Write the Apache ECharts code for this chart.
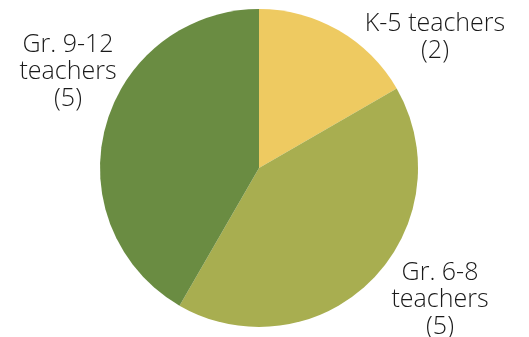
<!DOCTYPE html>
<html>
<head>
<meta charset="utf-8">
<script src="https://cdn.jsdelivr.net/npm/echarts@6/dist/echarts.min.js"></script>
<style>
  html, body { margin: 0; padding: 0; background: #ffffff; }
  #chart { width: 529px; height: 337px; }
</style>
</head>
<body>
<div id="chart"></div>
<script>
// Teacher counts by grade band
const categories = ['K-5 teachers', 'Gr. 6-8 teachers', 'Gr. 9-12 teachers'];
const labelLines = [['K-5 teachers'], ['Gr. 6-8', 'teachers'], ['Gr. 9-12', 'teachers']];
const counts = [2, 5, 5];
const colors = ['#EECA61', '#A8AE50', '#6A8C42'];

// Label anchor points (centre of the text block) in pixels
const labelAnchors = [[435, 37], [440, 300], [68, 72]];

const chart = echarts.init(document.getElementById('chart'), null, { renderer: 'canvas' });

chart.setOption({
  backgroundColor: '#ffffff',
  animation: false,
  series: [{
    type: 'pie',
    center: [259, 168],
    radius: [0, 159],
    startAngle: 90,
    clockwise: true,
    avoidLabelOverlap: false,
    data: categories.map((name, i) => ({
      name: name,
      value: counts[i],
      itemStyle: { color: colors[i] }
    })),
    itemStyle: { borderWidth: 0 },
    label: {
      show: true,
      position: 'outside',
      formatter: p => labelLines[p.dataIndex].concat(['(' + p.value + ')']).join('\n'),
      fontFamily: '"Open Sans", Lato, sans-serif',
      fontWeight: 300,
      fontSize: 25,
      lineHeight: 27,
      color: '#1a1a1a',
      align: 'center'
    },
    labelLine: { show: false },
    labelLayout: p => ({
      x: labelAnchors[p.dataIndex][0],
      y: labelAnchors[p.dataIndex][1],
      align: 'center',
      verticalAlign: 'middle'
    })
  }]
});
</script>
</body>
</html>
